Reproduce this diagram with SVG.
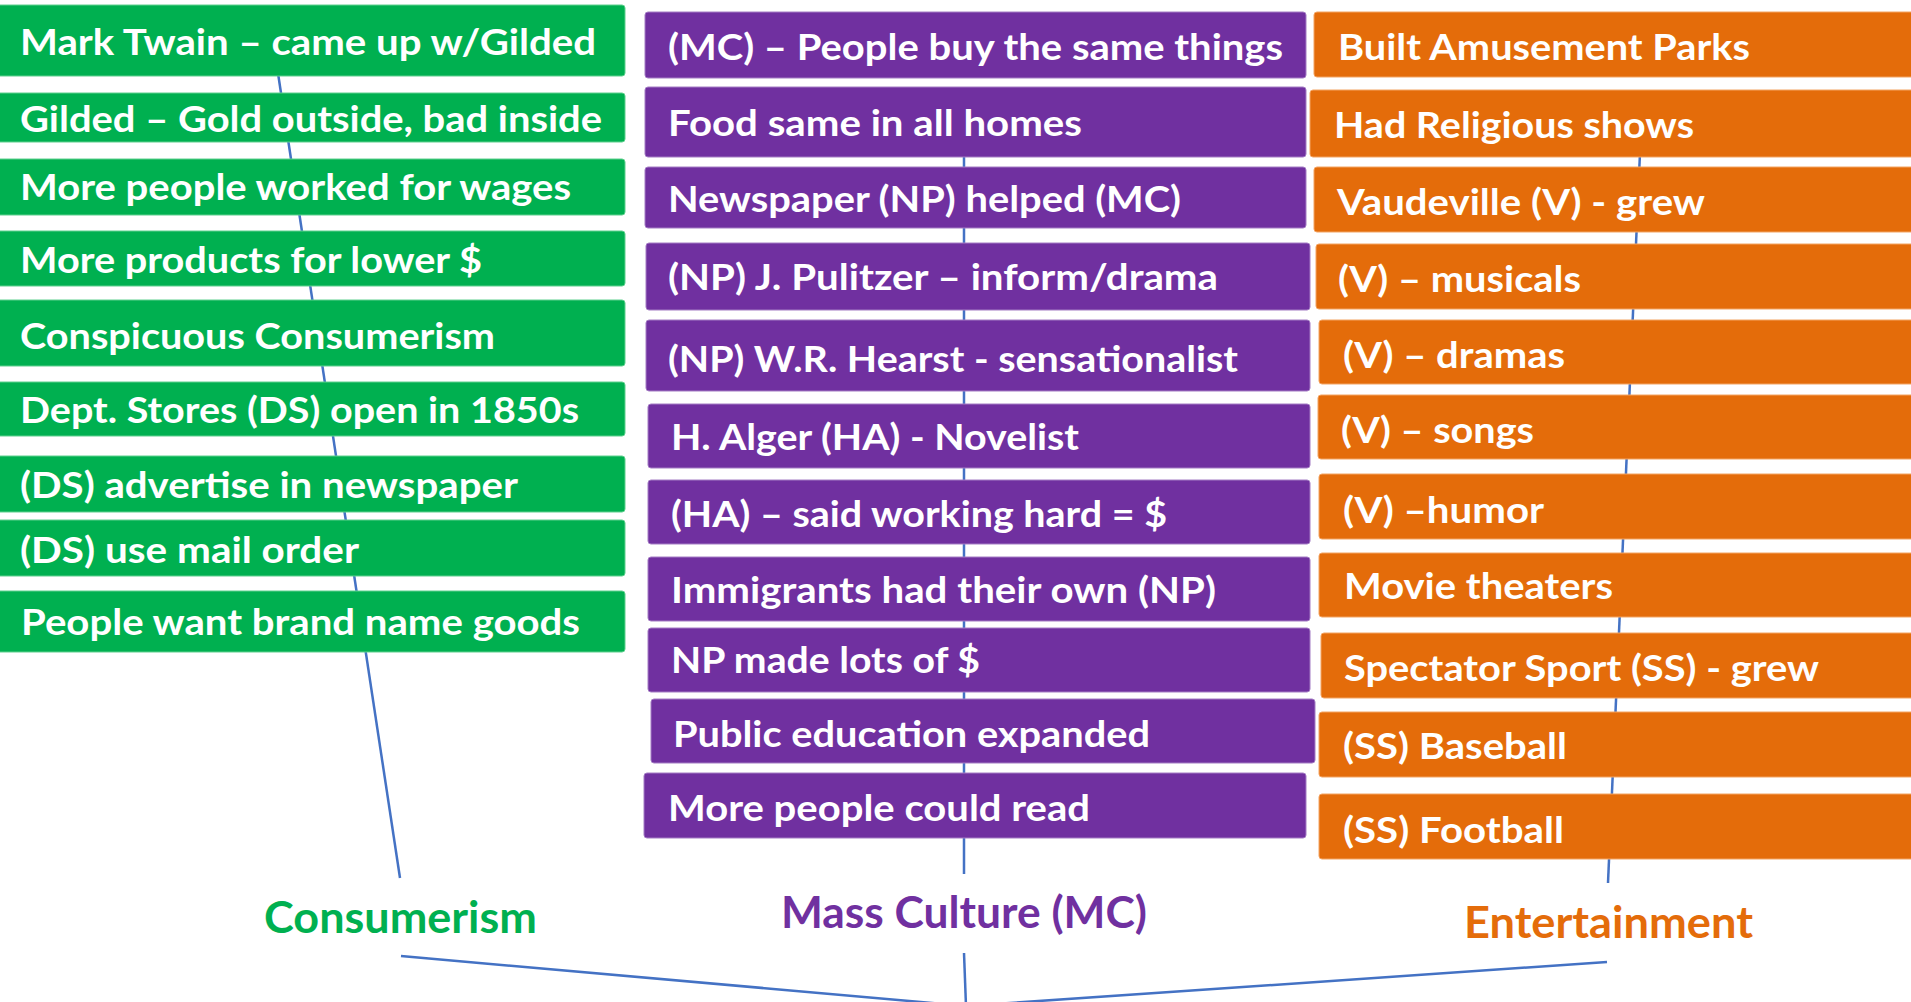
<svg xmlns="http://www.w3.org/2000/svg" width="1911" height="1002" viewBox="0 0 1911 1002">
<style>
.bg{fill:#ffffff}
.g rect{fill:#00B050;stroke:#5fd08e;stroke-width:1}
.p rect{fill:#7030A0;stroke:#a47cc4;stroke-width:1}
.o rect{fill:#E46C0A;stroke:#f3a463;stroke-width:1}
.t{font-family:Lato,"Open Sans","Liberation Sans",sans-serif;font-weight:700;font-size:37px;fill:#ffffff}
.lbl{font-family:Lato,"Open Sans","Liberation Sans",sans-serif;font-weight:700;font-size:43px}
.conn line{stroke:#4472C4;stroke-width:2.5;fill:none}
</style>
<rect class="bg" x="0" y="0" width="1911" height="1002"/>
<g id="connectors" class="conn">
<line x1="276" y1="60" x2="400" y2="878"/>
<line x1="964" y1="110" x2="964" y2="874"/>
<line x1="1641" y1="130" x2="1608" y2="883"/>
<line x1="401" y1="956" x2="966" y2="1006"/>
<line x1="964" y1="953" x2="966" y2="1006"/>
<line x1="1607" y1="962" x2="966" y2="1006"/>
</g>
<g id="consumerism-items" class="g">
<g id="g1"><rect x="-5" y="5" width="630" height="71" rx="3"/><text class="t" x="20" y="55" textLength="576" lengthAdjust="spacingAndGlyphs">Mark Twain – came up w/Gilded</text></g>
<g id="g2"><rect x="-5" y="93" width="630" height="49" rx="3"/><text class="t" x="20" y="132" textLength="582" lengthAdjust="spacingAndGlyphs">Gilded – Gold outside, bad inside</text></g>
<g id="g3"><rect x="-5" y="159" width="630" height="56" rx="3"/><text class="t" x="20" y="200" textLength="551" lengthAdjust="spacingAndGlyphs">More people worked for wages</text></g>
<g id="g4"><rect x="-5" y="231" width="630" height="55" rx="3"/><text class="t" x="20" y="273" textLength="462" lengthAdjust="spacingAndGlyphs">More products for lower $</text></g>
<g id="g5"><rect x="-5" y="300" width="630" height="66" rx="3"/><text class="t" x="20" y="349" textLength="475" lengthAdjust="spacingAndGlyphs">Conspicuous Consumerism</text></g>
<g id="g6"><rect x="-5" y="382" width="630" height="54" rx="3"/><text class="t" x="20" y="423" textLength="559" lengthAdjust="spacingAndGlyphs">Dept. Stores (DS) open in 1850s</text></g>
<g id="g7"><rect x="-5" y="456" width="630" height="56" rx="3"/><text class="t" x="20" y="498" textLength="498" lengthAdjust="spacingAndGlyphs">(DS) advertise in newspaper</text></g>
<g id="g8"><rect x="-5" y="520" width="630" height="56" rx="3"/><text class="t" x="20" y="563" textLength="339" lengthAdjust="spacingAndGlyphs">(DS) use mail order</text></g>
<g id="g9"><rect x="-5" y="591" width="630" height="61" rx="3"/><text class="t" x="21" y="635" textLength="559" lengthAdjust="spacingAndGlyphs">People want brand name goods</text></g>
</g>
<g id="massculture-items" class="p">
<g id="p1"><rect x="645" y="12" width="661" height="66" rx="3"/><text class="t" x="668" y="60" textLength="615" lengthAdjust="spacingAndGlyphs">(MC) – People buy the same things</text></g>
<g id="p2"><rect x="645" y="87" width="661" height="70" rx="3"/><text class="t" x="668" y="136" textLength="414" lengthAdjust="spacingAndGlyphs">Food same in all homes</text></g>
<g id="p3"><rect x="645" y="167" width="661" height="61" rx="3"/><text class="t" x="668" y="212" textLength="513" lengthAdjust="spacingAndGlyphs">Newspaper (NP) helped (MC)</text></g>
<g id="p4"><rect x="646" y="243" width="664" height="67" rx="3"/><text class="t" x="668" y="290" textLength="550" lengthAdjust="spacingAndGlyphs">(NP) J. Pulitzer – inform/drama</text></g>
<g id="p5"><rect x="646" y="320" width="664" height="71" rx="3"/><text class="t" x="668" y="372" textLength="570" lengthAdjust="spacingAndGlyphs">(NP) W.R. Hearst - sensationalist</text></g>
<g id="p6"><rect x="648" y="404" width="662" height="64" rx="3"/><text class="t" x="671" y="450" textLength="408" lengthAdjust="spacingAndGlyphs">H. Alger (HA) - Novelist</text></g>
<g id="p7"><rect x="648" y="480" width="662" height="64" rx="3"/><text class="t" x="671" y="527" textLength="496" lengthAdjust="spacingAndGlyphs">(HA) – said working hard = $</text></g>
<g id="p8"><rect x="648" y="557" width="662" height="64" rx="3"/><text class="t" x="671" y="603" textLength="545" lengthAdjust="spacingAndGlyphs">Immigrants had their own (NP)</text></g>
<g id="p9"><rect x="648" y="628" width="662" height="64" rx="3"/><text class="t" x="671" y="673" textLength="309" lengthAdjust="spacingAndGlyphs">NP made lots of $</text></g>
<g id="p10"><rect x="651" y="699" width="664" height="64" rx="3"/><text class="t" x="673" y="747" textLength="477" lengthAdjust="spacingAndGlyphs">Public education expanded</text></g>
<g id="p11"><rect x="644" y="773" width="662" height="65" rx="3"/><text class="t" x="668" y="821" textLength="422" lengthAdjust="spacingAndGlyphs">More people could read</text></g>
</g>
<g id="entertainment-items" class="o">
<g id="o1"><rect x="1314" y="12" width="610" height="65" rx="3"/><text class="t" x="1338" y="60" textLength="412" lengthAdjust="spacingAndGlyphs">Built Amusement Parks</text></g>
<g id="o2"><rect x="1310" y="90" width="610" height="67" rx="3"/><text class="t" x="1334" y="138" textLength="360" lengthAdjust="spacingAndGlyphs">Had Religious shows</text></g>
<g id="o3"><rect x="1314" y="167" width="610" height="65" rx="3"/><text class="t" x="1337" y="215" textLength="368" lengthAdjust="spacingAndGlyphs">Vaudeville (V) - grew</text></g>
<g id="o4"><rect x="1316" y="244" width="610" height="65" rx="3"/><text class="t" x="1338" y="292" textLength="243" lengthAdjust="spacingAndGlyphs">(V) – musicals</text></g>
<g id="o5"><rect x="1319" y="320" width="610" height="64" rx="3"/><text class="t" x="1343" y="368" textLength="222" lengthAdjust="spacingAndGlyphs">(V) – dramas</text></g>
<g id="o6"><rect x="1318" y="395" width="610" height="64" rx="3"/><text class="t" x="1341" y="443" textLength="193" lengthAdjust="spacingAndGlyphs">(V) – songs</text></g>
<g id="o7"><rect x="1319" y="474" width="610" height="65" rx="3"/><text class="t" x="1343" y="523" textLength="201" lengthAdjust="spacingAndGlyphs">(V) –humor</text></g>
<g id="o8"><rect x="1319" y="553" width="610" height="64" rx="3"/><text class="t" x="1344" y="599" textLength="269" lengthAdjust="spacingAndGlyphs">Movie theaters</text></g>
<g id="o9"><rect x="1321" y="633" width="610" height="65" rx="3"/><text class="t" x="1344" y="681" textLength="475" lengthAdjust="spacingAndGlyphs">Spectator Sport (SS) - grew</text></g>
<g id="o10"><rect x="1319" y="712" width="610" height="65" rx="3"/><text class="t" x="1343" y="759" textLength="224" lengthAdjust="spacingAndGlyphs">(SS) Baseball</text></g>
<g id="o11"><rect x="1319" y="794" width="610" height="65" rx="3"/><text class="t" x="1343" y="843" textLength="221" lengthAdjust="spacingAndGlyphs">(SS) Football</text></g>
</g>
<g id="label-consumerism"><text class="lbl" x="264" y="933" fill="#00B050" textLength="273" lengthAdjust="spacingAndGlyphs">Consumerism</text></g>
<g id="label-massculture"><text class="lbl" x="781" y="928" fill="#7030A0" textLength="366" lengthAdjust="spacingAndGlyphs">Mass Culture (MC)</text></g>
<g id="label-entertainment"><text class="lbl" x="1464" y="938" fill="#E46C0A" textLength="289" lengthAdjust="spacingAndGlyphs">Entertainment</text></g>
</svg>
